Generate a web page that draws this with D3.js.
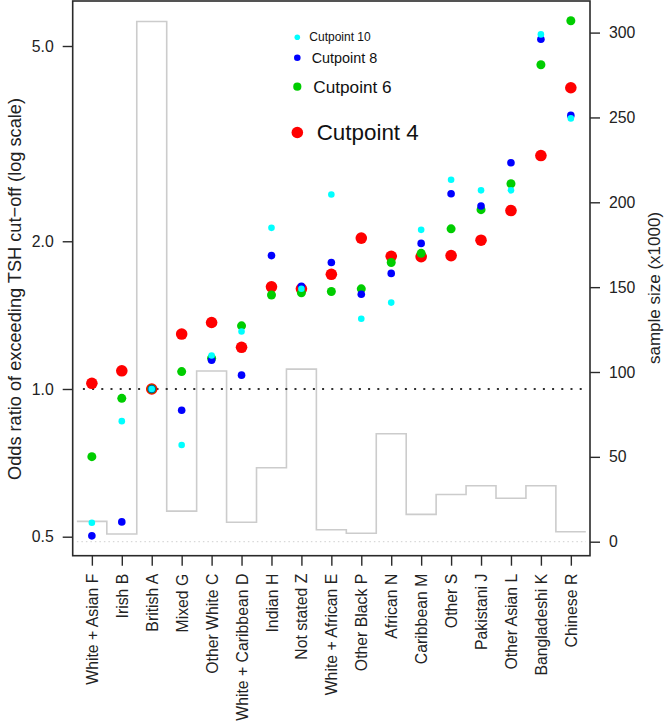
<!DOCTYPE html>
<html>
<head>
<meta charset="utf-8">
<script src="https://cdn.jsdelivr.net/npm/d3@7"></script>
<style>
  html, body { margin: 0; padding: 0; background: #fff; }
  svg { display: block; font-family: "Liberation Sans", Arial, Helvetica, sans-serif; }
</style>
</head>
<body>
<svg id="chart" width="666" height="723"></svg>
<script>
const categories = ["White + Asian F", "Irish B", "British A", "Mixed G", "Other White C",
  "White + Caribbean D", "Indian H", "Not stated Z", "White + African E", "Other Black P",
  "African N", "Caribbean M", "Other S", "Pakistani J", "Other Asian L", "Bangladeshi K", "Chinese R"];

const cutpoint4  = [1.027, 1.089, 1.0, 1.294, 1.366, 1.216, 1.615, 1.60, 1.713, 2.03, 1.864, 1.86, 1.87, 2.01, 2.31, 2.99, 4.11];
const cutpoint6  = [0.728, 0.957, 1.0, 1.085, 1.155, 1.345, 1.554, 1.57, 1.58, 1.60, 1.81, 1.89, 2.12, 2.32, 2.62, 4.58, 5.63];
const cutpoint8  = [0.502, 0.536, 1.0, 0.905, 1.145, 1.067, 1.87, 1.62, 1.81, 1.56, 1.72, 1.98, 2.50, 2.36, 2.89, 5.16, 3.61];
const cutpoint10 = [0.534, 0.86, 1.0, 0.769, 1.17, 1.31, 2.13, 1.60, 2.49, 1.39, 1.50, 2.11, 2.67, 2.54, 2.54, 5.28, 3.56];

const sampleSize = [12, 4.5, 306.5, 18, 100.6, 11.5, 43.6, 101.7, 7, 5, 63.6, 16.1, 27.8, 33, 25.6, 33, 5.9];

const leftTicks = [0.5, 1.0, 2.0, 5.0];
const rightTicks = [0, 50, 100, 150, 200, 250, 300];

const series = [
  { name: "Cutpoint 4",  values: cutpoint4,  color: "#ff0000", r: 5.8 },
  { name: "Cutpoint 6",  values: cutpoint6,  color: "#00cd00", r: 4.5 },
  { name: "Cutpoint 8",  values: cutpoint8,  color: "#0000ff", r: 3.8 },
  { name: "Cutpoint 10", values: cutpoint10, color: "#00ffff", r: 3.3 }
];

const svg = d3.select("#chart");
const L = 72.7, R = 590, T = 1, B = 555.7;

const x = d3.scaleLinear().domain([0.36, 17.64]).range([L, R]);
const yL = d3.scaleLog().domain([0.5, 5]).range([536.7, 46]);
const yR = d3.scaleLinear().domain([0, 300]).range([541.7, 32.6]);

// sample size step line
const stepPts = sampleSize.map((v, i) => [i + 0.5, v]);
stepPts.push([sampleSize.length + 0.5, sampleSize[sampleSize.length - 1]]);
svg.append("path")
  .attr("d", d3.line().x(d => x(d[0])).y(d => yR(d[1])).curve(d3.curveStepAfter)(stepPts))
  .attr("fill", "none").attr("stroke", "#cccccc").attr("stroke-width", 1.6);

// zero baseline for sample size
svg.append("line")
  .attr("x1", x(0.5)).attr("x2", x(17.5)).attr("y1", yR(0)).attr("y2", yR(0))
  .attr("stroke", "#cfcfcf").attr("stroke-width", 1).attr("stroke-dasharray", "1.5,3");

// reference line at OR = 1
svg.append("line")
  .attr("x1", x(0.5)).attr("x2", x(17.5)).attr("y1", yL(1)).attr("y2", yL(1))
  .attr("stroke", "#333").attr("stroke-width", 2.2).attr("stroke-dasharray", "2,7.2")
  .attr("stroke-dashoffset", -6);

// points
series.forEach(s => {
  svg.append("g").selectAll("circle").data(s.values).join("circle")
    .attr("cx", (d, i) => x(i + 1))
    .attr("cy", d => yL(d))
    .attr("r", s.r)
    .attr("fill", s.color);
});

// box
svg.append("rect").attr("x", L).attr("y", T).attr("width", R - L).attr("height", B - T)
  .attr("fill", "none").attr("stroke", "#2a2a2a").attr("stroke-width", 1.6);

const fs = "15.8px";
const fsTitle = "18.2px";

// left axis
const gL = svg.append("g").attr("transform", `translate(${L},0)`)
  .call(d3.axisLeft(yL).tickValues(leftTicks).tickFormat(d3.format(".1f")).tickSize(10).tickPadding(9));
gL.select(".domain").remove();
gL.selectAll("line").attr("stroke", "#2a2a2a").attr("stroke-width", 1.4);
gL.selectAll("text").attr("font-size", fs).attr("fill", "#222").attr("font-family", null);

// right axis
const gR = svg.append("g").attr("transform", `translate(${R},0)`)
  .call(d3.axisRight(yR).tickValues(rightTicks).tickFormat(d3.format("d")).tickSize(10).tickPadding(9));
gR.select(".domain").remove();
gR.selectAll("line").attr("stroke", "#2a2a2a").attr("stroke-width", 1.4);
gR.selectAll("text").attr("font-size", fs).attr("fill", "#222").attr("font-family", null);

// bottom axis
const gB = svg.append("g").attr("transform", `translate(0,${B})`)
  .call(d3.axisBottom(x).tickValues(d3.range(1, categories.length + 1))
    .tickFormat(i => categories[i - 1]).tickSize(10).tickPadding(8));
gB.select(".domain").remove();
gB.selectAll("line").attr("stroke", "#2a2a2a").attr("stroke-width", 1.4);
gB.selectAll("text")
  .attr("font-size", fs).attr("fill", "#222").attr("font-family", null)
  .attr("transform", "rotate(-90)")
  .attr("text-anchor", "end")
  .attr("x", -18).attr("y", 0).attr("dy", "0.35em");

// axis titles
svg.append("text")
  .attr("transform", `translate(15,289) rotate(-90)`)
  .attr("text-anchor", "middle").attr("dominant-baseline", "central")
  .attr("font-size", fsTitle).attr("fill", "#222")
  .text("Odds ratio of exceeding TSH cut\u2212off (log scale)");
svg.append("text")
  .attr("transform", `translate(654,288) rotate(-90)`)
  .attr("text-anchor", "middle").attr("dominant-baseline", "central")
  .attr("font-size", "17px").attr("fill", "#222")
  .text("sample size (x1000)");

// legend
const legendItems = [
  { name: "Cutpoint 10", color: "#00ffff", r: 2.8, cy: 37.3, tx: 309.3, fsz: 12 },
  { name: "Cutpoint 8",  color: "#0000ff", r: 3.3, cy: 57.7, tx: 311.7, fsz: 14.4 },
  { name: "Cutpoint 6",  color: "#00cd00", r: 4.1, cy: 86.7, tx: 313.3, fsz: 17.2 },
  { name: "Cutpoint 4",  color: "#ff0000", r: 5.8, cy: 132.5, tx: 316.7, fsz: 22.4 }
];
const lg = svg.append("g");
legendItems.forEach(d => {
  lg.append("circle").attr("cx", 297.3).attr("cy", d.cy).attr("r", d.r).attr("fill", d.color);
  lg.append("text").attr("x", d.tx).attr("y", d.cy).attr("dominant-baseline", "central")
    .attr("font-size", d.fsz + "px").attr("fill", "#111").text(d.name);
});
</script>
</body>
</html>
